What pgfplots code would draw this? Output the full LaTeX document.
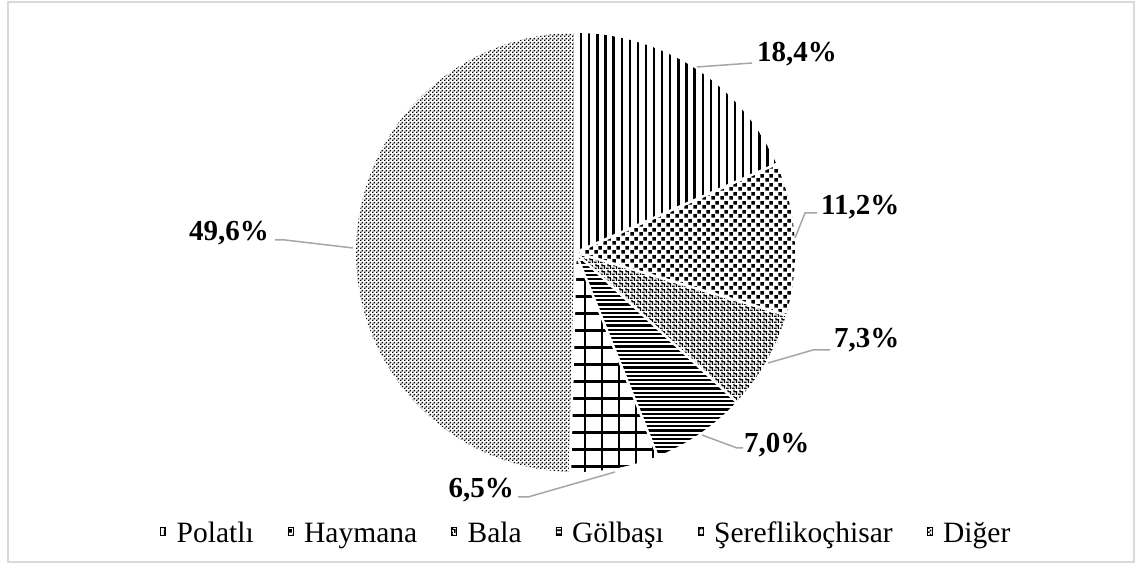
\documentclass[border=0pt]{standalone}
\usepackage{fontspec}
\setmainfont{Liberation Serif}
\usepackage{pgfplots}
\pgfplotsset{compat=1.18}
\usepackage{pgfplotstable}
\usetikzlibrary{patterns}

% slice patterns (1pt = 1px of the reference)
\pgfdeclarepatternformonly{pat0}{\pgfqpoint{0pt}{0pt}}{\pgfqpoint{8.1pt}{8.1pt}}{\pgfqpoint{8.1pt}{8.1pt}}{%
  \pgfpathrectangle{\pgfqpoint{3pt}{0pt}}{\pgfqpoint{2pt}{8.1pt}}\pgfusepath{fill}}
\pgfdeclarepatternformonly{pat1}{\pgfqpoint{0pt}{0pt}}{\pgfqpoint{9pt}{9pt}}{\pgfqpoint{9pt}{9pt}}{%
  \pgfpathrectangle{\pgfqpoint{0.3pt}{0.3pt}}{\pgfqpoint{3.9pt}{3.9pt}}%
  \pgfpathrectangle{\pgfqpoint{4.8pt}{4.8pt}}{\pgfqpoint{3.9pt}{3.9pt}}\pgfusepath{fill}}
\pgfdeclarepatternformonly{pat2}{\pgfqpoint{0pt}{0pt}}{\pgfqpoint{6pt}{6pt}}{\pgfqpoint{6pt}{6pt}}{%
  \pgfpathrectangle{\pgfqpoint{4.5pt}{0pt}}{\pgfqpoint{1.5pt}{4.5pt}}%
  \pgfpathrectangle{\pgfqpoint{1.5pt}{3pt}}{\pgfqpoint{4.5pt}{1.5pt}}%
  \pgfpathrectangle{\pgfqpoint{1.5pt}{3pt}}{\pgfqpoint{1.5pt}{3pt}}%
  \pgfpathrectangle{\pgfqpoint{0pt}{0pt}}{\pgfqpoint{3pt}{1.5pt}}\pgfusepath{fill}}
\pgfdeclarepatternformonly{pat3}{\pgfqpoint{0pt}{0pt}}{\pgfqpoint{4.2pt}{4.2pt}}{\pgfqpoint{4.2pt}{4.2pt}}{%
  \pgfpathrectangle{\pgfqpoint{0pt}{1pt}}{\pgfqpoint{4.2pt}{2pt}}\pgfusepath{fill}}
\pgfdeclarepatternformonly{pat4}{\pgfqpoint{0pt}{0pt}}{\pgfqpoint{6pt}{6pt}}{\pgfqpoint{6pt}{6pt}}{%
  \pgfpathrectangle{\pgfqpoint{2pt}{0pt}}{\pgfqpoint{2pt}{6pt}}%
  \pgfpathrectangle{\pgfqpoint{0pt}{4pt}}{\pgfqpoint{6pt}{1.5pt}}\pgfusepath{fill}}
\pgfdeclarepatternformonly{pat5}{\pgfqpoint{0pt}{0pt}}{\pgfqpoint{4pt}{4pt}}{\pgfqpoint{4pt}{4pt}}{%
  \pgfpathrectangle{\pgfqpoint{0pt}{0pt}}{\pgfqpoint{1.8pt}{1.8pt}}%
  \pgfpathrectangle{\pgfqpoint{2pt}{2pt}}{\pgfqpoint{1.8pt}{1.8pt}}\pgfusepath{fill}}

\definecolor{leader}{HTML}{A6A6A6}
\definecolor{frame}{HTML}{D9D9D9}

% shares in percent, clockwise from 12 o'clock
\pgfplotstableread{
idx value
0 18.4
1 11.2
2 7.3
3 7.0
4 6.5
5 49.6
}\piedata

\def\cumsum{0}
\pgfplotsforeachungrouped \i in {0,...,5}{%
  \pgfplotstablegetelem{\i}{value}\of\piedata
  \let\v\pgfplotsretval
  \pgfmathsetmacro\sa{90-3.6*\cumsum}%
  \pgfmathsetmacro\cumsum{\cumsum+\v}%
  \pgfmathsetmacro\ea{90-3.6*\cumsum}%
  \expandafter\xdef\csname sa\i\endcsname{\sa}%
  \expandafter\xdef\csname ea\i\endcsname{\ea}%
  \expandafter\xdef\csname pv\i\endcsname{\v}%
}
\newcommand\pct[1]{\pgfmathprintnumber[fixed,fixed zerofill,precision=1,use comma,assume math mode=true]{\csname pv#1\endcsname}\%}
\def\cx{575.5}
\def\cy{316.5}
\def\R{219.5pt}
% slice #1 as a path
\newcommand\slice[1]{(axis cs:\cx,\cy) -- ++(\csname sa#1\endcsname:\R)
     arc[start angle=\csname sa#1\endcsname, end angle=\csname ea#1\endcsname, radius=\R] -- cycle}

\begin{document}
\begin{tikzpicture}
\begin{axis}[
    x=1pt, y=1pt,
    xmin=0, xmax=1142, ymin=0, ymax=569,
    hide axis, clip=false,
    legend image code/.code={\path[#1] (0pt,5pt) rectangle (5pt,13pt);},
    legend style={at={(0.513,0.056)}, anchor=center, draw=none, fill=none,
        legend columns=-1, font=\fontsize{29.5}{32}\selectfont,
        nodes={inner xsep=1pt, text height=0.68em, text depth=0.22em},
        /tikz/every odd column/.append style={column sep=10pt},
        /tikz/every even column/.append style={column sep=33pt}},
]
\fill[white] (axis cs:0,0) rectangle (axis cs:1142,569);
\draw[frame, line width=1.5pt] (axis cs:8,7) rectangle (axis cs:1134,567);

% pattern-filled slices
\fill[pattern=pat1] \slice{1};
\fill[pattern=pat2] \slice{2};
\fill[pattern=pat5] \slice{5};
% Polatli: vertical lines
\begin{scope}
\clip \slice{0};
\pgfplotsinvokeforeach{0,...,28}{
  \fill ([xshift={#1*8.1pt}]axis cs:580,300) rectangle ++(2.3pt,270pt);
}
\end{scope}
% Golbasi: horizontal lines
\begin{scope}
\clip \slice{3};
\pgfplotsinvokeforeach{0,...,48}{
  \fill ([yshift={-#1*4.2pt}]axis cs:570,318) rectangle ++(200pt,2.2pt);
}
\end{scope}
% Sereflikochisar: grid
\begin{scope}
\clip \slice{4};
\pgfplotsinvokeforeach{0,...,6}{
  \fill ([xshift={#1*17pt}]axis cs:566.8,80) rectangle ++(2.6pt,250pt);
}
\pgfplotsinvokeforeach{0,...,14}{
  \fill ([yshift={-#1*17pt}]axis cs:560,322) rectangle ++(120pt,2.6pt);
}
\end{scope}

\pgfplotsinvokeforeach{0,...,5}{
  \draw[white, line width=2.5pt] (axis cs:\cx,\cy) -- ++(\csname sa#1\endcsname:\R+1pt);
}

% leader lines and labels
\begin{scope}[leader, line width=1.5pt]
\draw (axis cs:697,502) -- (axis cs:752,506);
\draw (axis cs:795,331) -- (axis cs:805,356) -- (axis cs:817,356);
\draw (axis cs:768,206) -- (axis cs:813,219) -- (axis cs:830,219);
\draw (axis cs:702,134) -- (axis cs:737,121) -- (axis cs:743,121);
\draw (axis cs:615,97) -- (axis cs:528,72) -- (axis cs:518,72);
\draw (axis cs:353,321) -- (axis cs:285,329) -- (axis cs:275,329);
\end{scope}
\begin{scope}[every node/.style={font=\fontsize{29}{31}\selectfont\bfseries, inner sep=0pt}]
\node[anchor=west] at (axis cs:757,515) {\pct{0}};
\node[anchor=west] at (axis cs:821,362) {\pct{1}};
\node[anchor=west] at (axis cs:834,229) {\pct{2}};
\node[anchor=west] at (axis cs:744,124) {\pct{3}};
\node[anchor=east] at (axis cs:514,79) {\pct{4}};
\node[anchor=east] at (axis cs:269,336) {\pct{5}};
\end{scope}

\addlegendimage{pattern=pat0}
\addlegendimage{pattern=pat1}
\addlegendimage{pattern=pat2}
\addlegendimage{pattern=pat3}
\addlegendimage{pattern=pat4}
\addlegendimage{pattern=pat5}
\legend{Polatlı, Haymana, Bala, Gölbaşı, Şereflikoçhisar, Diğer}
\end{axis}
\end{tikzpicture}
\end{document}
